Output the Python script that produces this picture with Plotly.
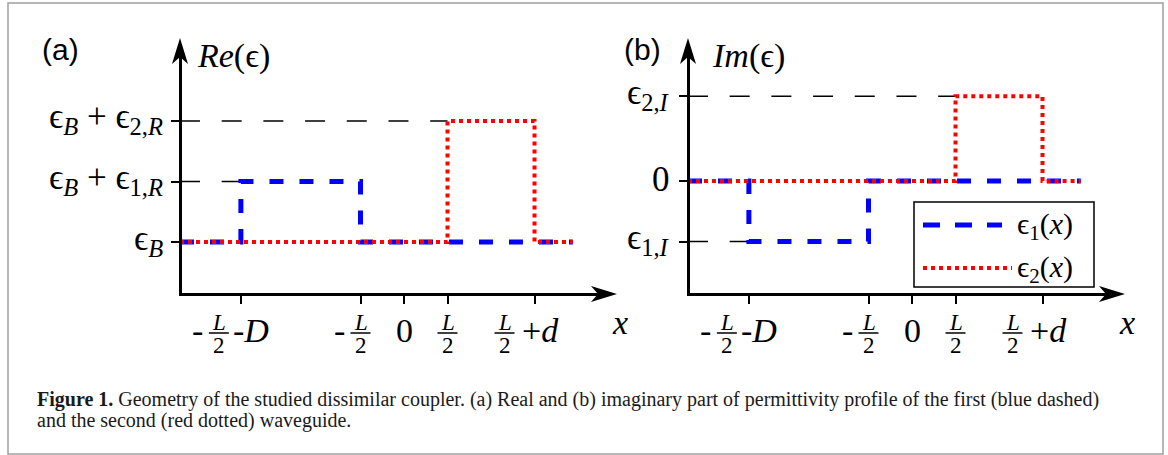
import plotly.graph_objects as go

W, H = 1168, 455

# ---------------- data (x in units of L/2) ----------------
x_tick_vals = [-3.75, -1.0, 0.0, 1.0, 3.0]
x_tick_names = ["-L/2-D", "-L/2", "0", "L/2", "L/2+d"]
x_edges = [-5.15, -3.75, -1.0, 1.0, 3.0, 3.88]      # segment boundaries of the profiles

re_eps1 = [1, 2, 1, 1, 1]      # Re(eps) of waveguide 1 per segment
re_eps2 = [1, 1, 1, 3, 1]      # Re(eps) of waveguide 2 per segment
im_eps1 = [0, -1, 0, 0, 0]     # Im(eps) of waveguide 1 per segment
im_eps2 = [0, 0, 0, 1.4, 0]    # Im(eps) of waveguide 2 per segment

re_levels = [1, 2, 3]
re_level_labels = [
    "ϵ<sub><i>B</i></sub>",
    "ϵ<sub><i>B</i></sub>\u2005+\u2005ϵ<sub>1,<i>R</i></sub>",
    "ϵ<sub><i>B</i></sub>\u2005+\u2005ϵ<sub>2,<i>R</i></sub>",
]
im_levels = [-1, 0, 1.4]
im_level_labels = ["ϵ<sub>1,<i>I</i></sub>", "0", "ϵ<sub>2,<i>I</i></sub>"]

series_names = ["ϵ<sub>1</sub>(<i>x</i>)", "ϵ<sub>2</sub>(<i>x</i>)"]
panel_titles = ["<i>Re</i>(ϵ)", "<i>Im</i>(ϵ)"]
panel_tags = ["(a)", "(b)"]
caption_lines = [
    "<b>Figure 1.</b> Geometry of the studied dissimilar coupler. (a) Real and (b) imaginary part "
    "of permittivity profile of the first (blue dashed)",
    "and the second (red dotted) waveguide.",
]

# ---------------- styling / geometry ----------------
SERIF = "Liberation Serif, DejaVu Serif, serif"
SANS = "Liberation Sans, Arial, sans-serif"
BLUE, RED = "#0000ff", "#ff0000"
BLUE_DASH, RED_DOT = "14px,16px", "4px,4px"
SX, SY = 43.5, 60.5          # px per data unit
AXIS_Y, TIP_Y = 294, 38      # pixel rows of x-axis and y-arrow tip

panels = [
    dict(x0px=404, yval=1, ypx=242, axis_x=180, tip_x=617, ylab_right=165,
         title_left=195, tag_left=40, xlab=620,
         series=[re_eps1, re_eps2], levels=re_levels, labels=re_level_labels,
         base=1),
    dict(x0px=912, yval=0, ypx=181, axis_x=688, tip_x=1125, ylab_right=672,
         title_left=710, tag_left=622, xlab=1127,
         series=[im_eps1, im_eps2], levels=im_levels, labels=im_level_labels,
         base=0),
]


def px(x):
    return x / W


def py(y):
    return 1 - y / H


fig = go.Figure()
shapes, annotations = [], []
layout_axes = {}

for i, p in enumerate(panels):
    sfx = "" if i == 0 else str(i + 1)
    xa, ya = "x" + sfx, "y" + sfx
    # axes through library
    dom_x = [p["axis_x"] + 1.5, p["tip_x"] - 8]
    dom_y = [AXIS_Y - 1.5, TIP_Y + 8]
    xr = [(d - p["x0px"]) / SX for d in dom_x]
    yr = [p["yval"] + (p["ypx"] - d) / SY for d in dom_y]
    common = dict(showline=True, linewidth=3, linecolor="black", ticks="outside",
                  ticklen=8, tickwidth=1.5, tickcolor="black", showticklabels=False,
                  showgrid=False, zeroline=False, fixedrange=True)
    layout_axes["xaxis" + sfx] = dict(domain=[px(dom_x[0]), px(dom_x[1])], range=xr,
                                      tickvals=x_tick_vals, anchor=ya, **common)
    layout_axes["yaxis" + sfx] = dict(domain=[py(dom_y[0]), py(dom_y[1])], range=yr,
                                      tickvals=p["levels"], anchor=xa, **common)

    # guide lines (black dashed) from y axis to where a profile reaches each level
    for lev in p["levels"]:
        if lev == p["base"]:
            continue
        for vals in p["series"]:
            if lev in vals:
                k = vals.index(lev)
                shapes.append(dict(type="line", xref=xa, yref=ya, x0=x_edges[0], x1=x_edges[k],
                                   y0=lev, y1=lev, layer="below",
                                   line=dict(color="black", width=1.5, dash="20px,21.7px")))
                break

    # profiles
    for j, vals in enumerate(p["series"]):
        fig.add_trace(go.Scatter(
            x=x_edges, y=vals + [vals[-1]], xaxis=xa, yaxis=ya, mode="lines",
            line=dict(shape="hv", color=BLUE if j == 0 else RED,
                      width=5 if j == 0 else 4, dash=BLUE_DASH if j == 0 else RED_DOT),
            name=series_names[j], showlegend=False, hoverinfo="skip"))

    # arrow heads
    L, Wd, N = 26, 16, 19
    tx, ty = p["tip_x"], AXIS_Y
    pts = [(tx, ty), (tx - L, ty - Wd / 2), (tx - N, ty), (tx - L, ty + Wd / 2)]
    shapes.append(dict(type="path", xref="paper", yref="paper", fillcolor="black",
                       line=dict(width=0),
                       path="M " + " L ".join(f"{px(a):.5f},{py(b):.5f}" for a, b in pts) + " Z"))
    tx, ty = p["axis_x"], TIP_Y
    pts = [(tx, ty), (tx - Wd / 2, ty + L), (tx, ty + N), (tx + Wd / 2, ty + L)]
    shapes.append(dict(type="path", xref="paper", yref="paper", fillcolor="black",
                       line=dict(width=0),
                       path="M " + " L ".join(f"{px(a):.5f},{py(b):.5f}" for a, b in pts) + " Z"))

    # y tick labels
    for lev, lab in zip(p["levels"], p["labels"]):
        annotations.append(dict(text=lab, xref="paper", x=px(p["ylab_right"]), xanchor="right",
                                yref=ya, y=lev, yanchor="middle", yshift=2, showarrow=False,
                                font=dict(family=SERIF, size=35, color="black")))

    # x tick labels (fractions built from pieces)
    specs = {
        "-L/2-D": dict(frac=-22, pre=("-", -43), post=("-<i>D</i>", -10)),
        "-L/2": dict(frac=0, pre=("-", -21)),
        "0": dict(text=("0", 0)),
        "L/2": dict(frac=0),
        "L/2+d": dict(frac=-30, post=("+<i>d</i>", -15)),
    }
    for xv, name in zip(x_tick_vals, x_tick_names):
        s = specs[name]
        big = dict(family=SERIF, size=34, color="black")
        small = dict(family=SERIF, size=23, color="black")
        if "text" in s:
            annotations.append(dict(text=s["text"][0], xref=xa, x=xv, xshift=s["text"][1],
                                    xanchor="center", yref="paper", y=py(330), yanchor="middle",
                                    showarrow=False, font=big))
        if "pre" in s:
            annotations.append(dict(text=s["pre"][0], xref=xa, x=xv, xshift=s["pre"][1],
                                    xanchor="center", yref="paper", y=py(330), yanchor="middle",
                                    showarrow=False, font=big))
        if "post" in s:
            annotations.append(dict(text=s["post"][0], xref=xa, x=xv, xshift=s["post"][1],
                                    xanchor="left", yref="paper", y=py(330), yanchor="middle",
                                    showarrow=False, font=big))
        if "frac" in s:
            off = s["frac"]
            annotations.append(dict(text="<i>L</i>", xref=xa, x=xv, xshift=off, xanchor="center",
                                    yref="paper", y=py(322.5), yanchor="middle",
                                    showarrow=False, font=small))
            annotations.append(dict(text="2", xref=xa, x=xv, xshift=off, xanchor="center",
                                    yref="paper", y=py(345.5), yanchor="middle",
                                    showarrow=False, font=small))
            cx = p["x0px"] + xv * SX + off
            shapes.append(dict(type="line", xref="paper", yref="paper",
                               x0=px(cx - 10), x1=px(cx + 10), y0=py(333), y1=py(333),
                               line=dict(color="black", width=1.5)))

    # axis labels, titles, panel tags
    annotations.append(dict(text="<i>x</i>", xref="paper", x=px(p["xlab"]), xanchor="center",
                            yref="paper", y=py(322), yanchor="middle", showarrow=False,
                            font=dict(family=SERIF, size=34, color="black")))
    annotations.append(dict(text=panel_titles[i], xref="paper", x=px(p["title_left"]),
                            xanchor="left", yref="paper", y=py(56), yanchor="middle",
                            showarrow=False, font=dict(family=SERIF, size=34, color="black")))
    annotations.append(dict(text=panel_tags[i], xref="paper", x=px(p["tag_left"]),
                            xanchor="left", yref="paper", y=py(49), yanchor="middle",
                            showarrow=False, font=dict(family=SANS, size=30, color="black")))

# custom legend in panel (b)
LB = dict(x0=914, x1=1094, y0=202, y1=287)
shapes.append(dict(type="rect", xref="paper", yref="paper", x0=px(LB["x0"]), x1=px(LB["x1"]),
                   y0=py(LB["y0"]), y1=py(LB["y1"]), fillcolor="white",
                   line=dict(color="black", width=1.5), layer="above"))
leg_rows = [(225, 1002, BLUE, 5, "17px,15px"), (268, 1012, RED, 4, RED_DOT)]
for (yy, xend, col, wdt, dsh), nm in zip(leg_rows, series_names):
    shapes.append(dict(type="line", xref="paper", yref="paper", x0=px(923), x1=px(xend),
                       y0=py(yy), y1=py(yy), line=dict(color=col, width=wdt, dash=dsh),
                       layer="above"))
    annotations.append(dict(text=nm, xref="paper", x=px(1015), xanchor="left", yref="paper",
                            y=py(yy + 1), yanchor="middle", showarrow=False,
                            font=dict(family=SERIF, size=30, color="black")))

# caption
for k, line in enumerate(caption_lines):
    annotations.append(dict(text=line, xref="paper", x=px(35), xanchor="left", yref="paper",
                            y=py(399 + 21 * k), yanchor="middle", showarrow=False,
                            font=dict(family=SERIF, size=20, color="#1a1a1a")))

# outer frame
shapes.append(dict(type="rect", xref="paper", yref="paper", x0=px(8), x1=px(1163),
                   y0=py(3), y1=py(454), line=dict(color="#a0a0a0", width=1.5), layer="below"))

fig.update_layout(width=W, height=H, margin=dict(l=0, r=0, t=0, b=0),
                  paper_bgcolor="white", plot_bgcolor="white", showlegend=False,
                  shapes=shapes, annotations=annotations, **layout_axes)

fig.write_html("out.html", config={"displayModeBar": False},
               post_script="document.body.style.margin='0';document.body.style.overflow='hidden';")
